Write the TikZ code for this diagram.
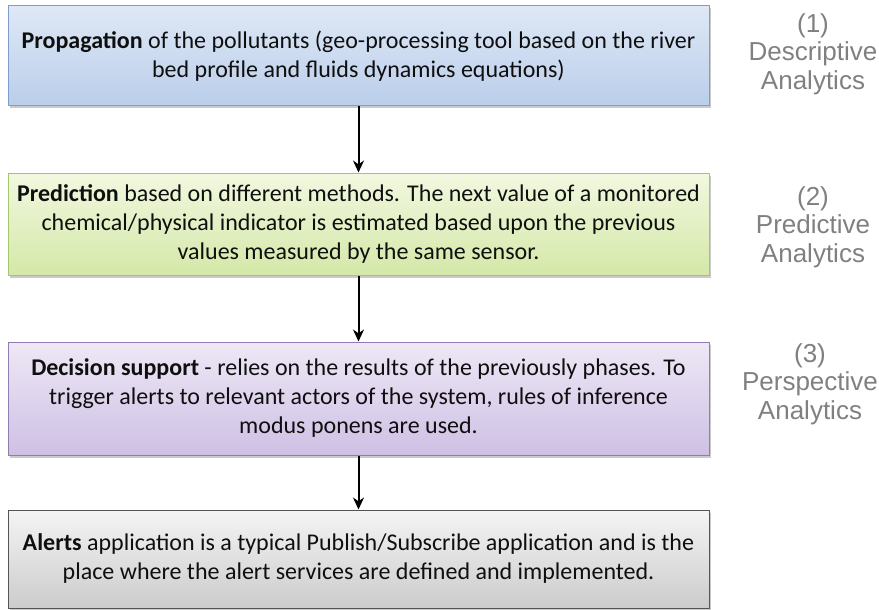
\documentclass[tikz,border=0pt]{standalone}
\usepackage{fontspec}
\setmainfont{Carlito}
\newfontfamily\labelfont{Liberation Sans}
\usetikzlibrary{arrows.meta,shadows}

\definecolor{blueTop}{RGB}{222,232,246}
\definecolor{blueBot}{RGB}{186,206,234}
\definecolor{blueEdge}{RGB}{125,157,206}
\definecolor{greenTop}{RGB}{242,248,224}
\definecolor{greenBot}{RGB}{212,232,168}
\definecolor{greenEdge}{RGB}{165,198,110}
\definecolor{purpleTop}{RGB}{238,232,246}
\definecolor{purpleBot}{RGB}{206,192,228}
\definecolor{purpleEdge}{RGB}{145,125,180}
\definecolor{grayTop}{RGB}{244,244,244}
\definecolor{grayBot}{RGB}{204,204,204}
\definecolor{grayEdge}{RGB}{85,85,85}
\definecolor{labelGray}{RGB}{128,128,128}
\definecolor{bodyText}{RGB}{15,15,15}

\tikzset{
  phasebox/.style={draw, line width=1pt, minimum width=701pt, inner sep=0pt,
    align=center, text=bodyText,
    font=\fontsize{24}{29}\selectfont,
    drop shadow={shadow xshift=1.5pt, shadow yshift=-2.5pt, opacity=0.35, fill=black!60}},
  bluebox/.style={phasebox, draw=blueEdge, top color=blueTop, bottom color=blueBot},
  greenbox/.style={phasebox, draw=greenEdge, top color=greenTop, bottom color=greenBot},
  purplebox/.style={phasebox, draw=purpleEdge, top color=purpleTop, bottom color=purpleBot},
  graybox/.style={phasebox, draw=grayEdge, top color=grayTop, bottom color=grayBot},
  phaselabel/.style={align=center, text=labelGray, inner sep=0pt,
    font=\labelfont\fontsize{26}{28.5}\selectfont},
  flow/.style={draw=black, line width=2pt, -{Stealth[length=12pt,width=11pt]}}
}

\begin{document}
\begin{tikzpicture}[x=1pt, y=-1pt]
  \useasboundingbox (0,0) rectangle (879,610);

  % Processing phases
  \node[bluebox, minimum height=100pt] (prop) at (358.5,56)
    {\textbf{Propagation} of the pollutants (geo-processing tool based on the river\\
     bed profile and fluids dynamics equations)};
  \node[greenbox, minimum height=102pt] (pred) at (358.5,224)
    {\textbf{Prediction} based on different methods. The next value of a monitored\\
     chemical/physical indicator is estimated based upon the previous\\
     values measured by the same sensor.};
  \node[purplebox, minimum height=113pt] (dec) at (358.5,398.5)
    {\textbf{Decision support} - relies on the results of the previously phases. To\\
     trigger alerts to relevant actors of the system, rules of inference\\
     modus ponens are used.};
  \node[graybox, minimum height=98pt] (alert) at (358.5,559)
    {\textbf{Alerts} application is a typical Publish/Subscribe application and is the\\
     place where the alert services are defined and implemented.};

  % Flow between phases
  \draw[flow] (prop.south) -- (pred.north);
  \draw[flow] (pred.south) -- (dec.north);
  \draw[flow] (dec.south) -- (alert.north);

  % Analytics categories
  \node[phaselabel] (lab1) at (813,54) {(1)\\Descriptive\\Analytics};
  \node[phaselabel] (lab2) at (813,227) {(2)\\Predictive\\Analytics};
  \node[phaselabel] (lab3) at (810,384) {(3)\\Perspective\\Analytics};
\end{tikzpicture}
\end{document}
